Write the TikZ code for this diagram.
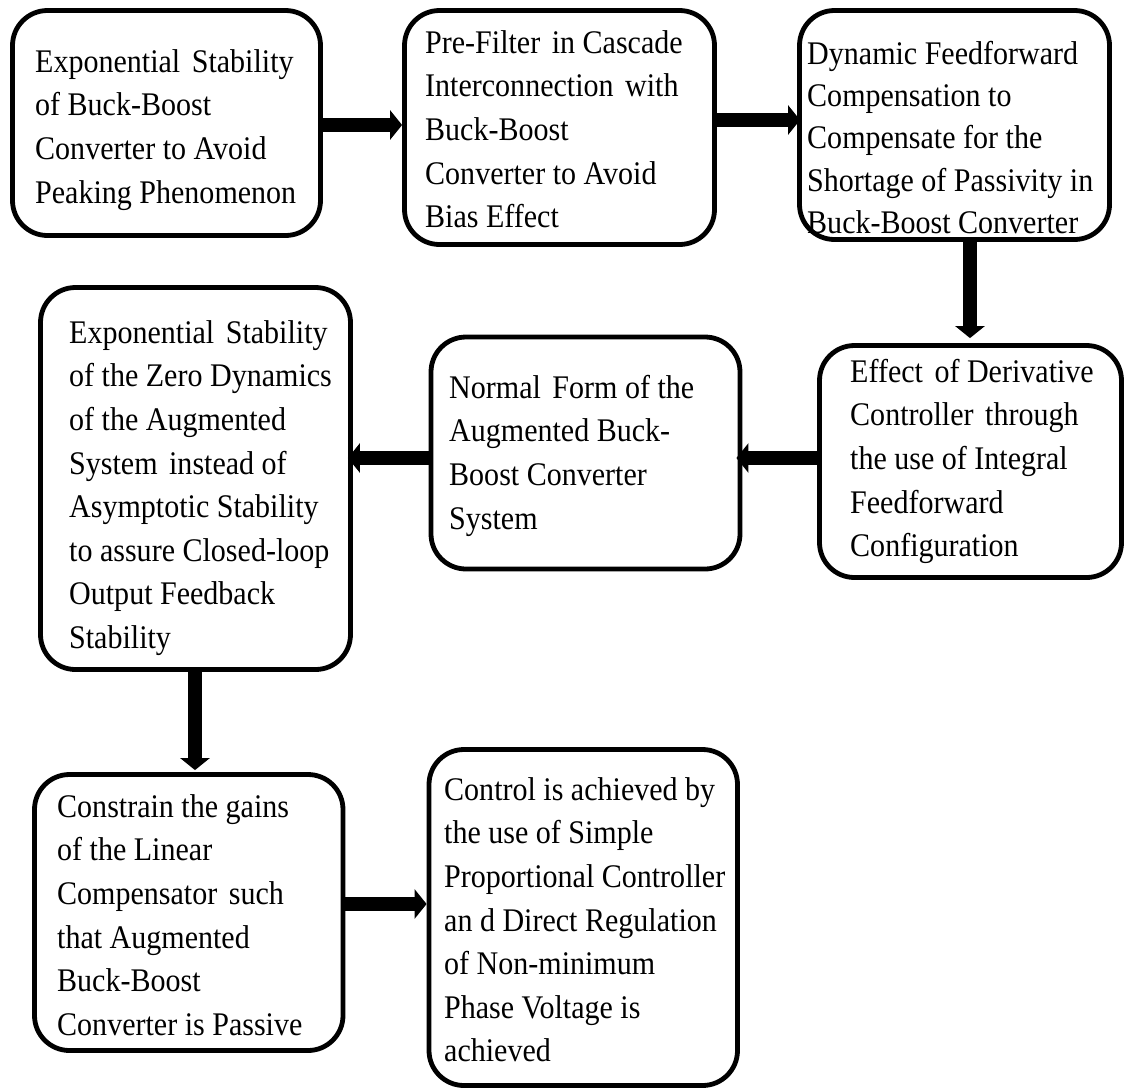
\documentclass[tikz,border=0pt]{standalone}
\usepackage{fontspec}
\setmainfont{Liberation Serif}[FakeStretch=0.91]
\usetikzlibrary{arrows.meta,fit}

% place a left-aligned text block by its left edge and first baseline
\newcommand\blocklines[5][]{%
  \node[blocktext,#1] (#2) at (#3,#4-30) {\rule{0pt}{30pt}#5};}
% slightly widened word gap
\newcommand\wgap{\hspace{4pt} }

\begin{document}
\begin{tikzpicture}[x=1pt,y=-1pt,
  blockbox/.style={draw=black, line width=4.8pt, rounded corners=35pt,
                   fill=white, inner sep=0pt},
  blocktext/.style={anchor=north west, inner sep=0pt, align=left,
                    font=\fontsize{33}{43.6}\selectfont},
  flow/.style={line width=14pt, -{Triangle[length=12pt,width=29pt]}}
]
\useasboundingbox (0,0) rectangle (1125,1088);

% ---- boxes ----
\node[blockbox, fit={(12.5,10.5) (320.5,235.5)}]   (A) {};
\node[blockbox, fit={(404.5,10.5) (714.5,244.5)}]  (B) {};
\node[blockbox, fit={(799.5,10.5) (1109.5,239.5)}] (C) {};
\node[blockbox, fit={(819.5,345.5) (1121.5,577.5)}] (D) {};
\node[blockbox, fit={(431,337) (740,569)}]         (N) {};
\node[blockbox, fit={(40.5,287.5) (350.5,669.5)}]  (E) {};
\node[blockbox, fit={(34.5,774.5) (343,1050.5)}]   (F) {};
\node[blockbox, fit={(429,749.5) (737.5,1085.5)}]  (G) {};

% ---- texts ----
\blocklines{A-text}{35}{72}{Exponential\wgap Stability\\ of Buck-Boost\\ Converter to Avoid\\ Peaking Phenomenon}
\blocklines{B-text}{425}{53}{Pre-Filter\wgap in Cascade\\ Interconnection\wgap with\\ Buck-Boost\\ Converter to Avoid\\ Bias Effect}
\blocklines[font=\fontsize{33}{42.3}\selectfont]{C-text}{807}{64}{Dynamic Feedforward\\ Compensation to\\ Compensate for the\\ Shortage of Passivity in\\ Buck-Boost Converter}
\blocklines{D-text}{850}{382}{Effect\wgap of Derivative\\ Controller\wgap through\\ the use of Integral\\ Feedforward\\ Configuration}
\blocklines{N-text}{449}{398}{Normal\wgap Form of the\\ Augmented Buck-\\ Boost Converter\\ System}
\blocklines{E-text}{69}{343}{Exponential\wgap Stability\\ of the Zero Dynamics\\ of the Augmented\\ System\wgap instead of\\ Asymptotic Stability\\ to assure Closed-loop\\ Output Feedback\\ Stability}
\blocklines{F-text}{57}{817}{Constrain the gains\\ of the Linear\\ Compensator\wgap such\\ that Augmented\\ Buck-Boost\\ Converter is Passive}
\blocklines{G-text}{444}{800}{Control is achieved by\\ the use of Simple\\ Proportional Controller\\ an d Direct Regulation\\ of Non-minimum\\ Phase Voltage is\\ achieved}

% ---- connector lanes ----
\coordinate (lab) at (0,125);
\coordinate (lbc) at (0,120);
\coordinate (lcd) at (970,0);
\coordinate (ldn) at (0,458);
\coordinate (lef) at (195,0);
\coordinate (lfg) at (0,904);

% ---- connectors ----
\draw[flow] (A.east |- lab) -- (B.west |- lab);
\draw[flow, shorten >=-3pt] (B.east |- lbc) -- (C.west |- lbc);
\draw[flow, shorten >=5pt] (lcd |- C.south) -- (lcd |- D.north);
\draw[flow, shorten >=-6pt] (D.west |- ldn) -- (N.east |- ldn);
\draw[flow, shorten >=-5pt] (N.west |- ldn) -- (E.east |- ldn);
\draw[flow, shorten >=2pt] (lef |- E.south) -- (lef |- F.north);
\draw[flow] (F.east |- lfg) -- (G.west |- lfg);
\end{tikzpicture}
\end{document}
